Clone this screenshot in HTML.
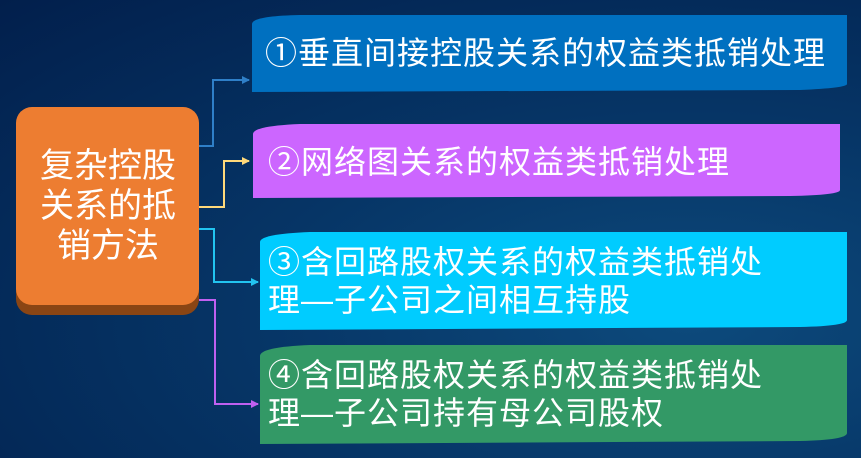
<!DOCTYPE html>
<html><head><meta charset="utf-8"><style>
body{margin:0;width:861px;height:458px;overflow:hidden;background:radial-gradient(ellipse at 80% 70%,#0d4a7c 0%,#063566 45%,#021f4c 100%);font-family:"Liberation Sans","Noto Sans CJK SC",sans-serif;}
svg{position:absolute;left:0;top:0}
.t{position:absolute;color:#fff;font-size:32px;line-height:38px;white-space:nowrap;letter-spacing:1px}
</style></head><body>
<svg width="861" height="458">
<defs>
<marker id="a1" markerWidth="8" markerHeight="8" refX="7" refY="4" orient="auto" markerUnits="userSpaceOnUse"><path d="M0,0L8,4L0,8z" fill="#2f7fc8"/></marker>
<marker id="a2" markerWidth="8" markerHeight="8" refX="7" refY="4" orient="auto" markerUnits="userSpaceOnUse"><path d="M0,0L8,4L0,8z" fill="#ffd97a"/></marker>
<marker id="a3" markerWidth="8" markerHeight="8" refX="7" refY="4" orient="auto" markerUnits="userSpaceOnUse"><path d="M0,0L8,4L0,8z" fill="#22c4f0"/></marker>
<marker id="a4" markerWidth="8" markerHeight="8" refX="7" refY="4" orient="auto" markerUnits="userSpaceOnUse"><path d="M0,0L8,4L0,8z" fill="#c060f0"/></marker>
</defs>
<path d="M252,92V24Q252,16 300,15H847V84Q847,88 800,90L252,92Z" fill="#0070c0"/>
<path d="M253,198V134Q253,126 300,124H840V190Q840,195 790,196L253,198Z" fill="#cc66ff"/>
<path d="M260,330V242Q260,234 310,232H847V320Q847,326 800,327L260,330Z" fill="#00ccff"/>
<path d="M260,444V356Q260,347 310,345H847V433Q847,440 800,441L260,444Z" fill="#339966"/>
<rect x="16" y="115" width="183" height="200" rx="16" fill="#8a4514"/>
<rect x="16" y="107" width="183" height="198" rx="16" fill="#ed7d31"/>
<polyline points="199,146 213,146 213,80 249,80" fill="none" stroke="#2f7fc8" stroke-width="2" marker-end="url(#a1)"/>
<polyline points="199,207 224,207 224,161 249,161" fill="none" stroke="#ffd97a" stroke-width="2" marker-end="url(#a2)"/>
<polyline points="199,229 214,229 214,282 258,282" fill="none" stroke="#22c4f0" stroke-width="2" marker-end="url(#a3)"/>
<polyline points="199,300 215,300 215,404 258,404" fill="none" stroke="#c060f0" stroke-width="2" marker-end="url(#a4)"/>
</svg>
<div class="t" style="left:40px;top:146px;width:136px;text-align:center;font-size:34px;line-height:40px;white-space:normal;letter-spacing:0">复杂控股关系的抵销方法</div>
<div class="t" style="left:265px;top:34px">①垂直间接控股关系的权益类抵销处理</div>
<div class="t" style="left:268px;top:143px">②网络图关系的权益类抵销处理</div>
<div class="t" style="left:268px;top:243px">③含回路股权关系的权益类抵销处<br>理—子公司之间相互持股</div>
<div class="t" style="left:268px;top:356px">④含回路股权关系的权益类抵销处<br>理—子公司持有母公司股权</div>
</body></html>
